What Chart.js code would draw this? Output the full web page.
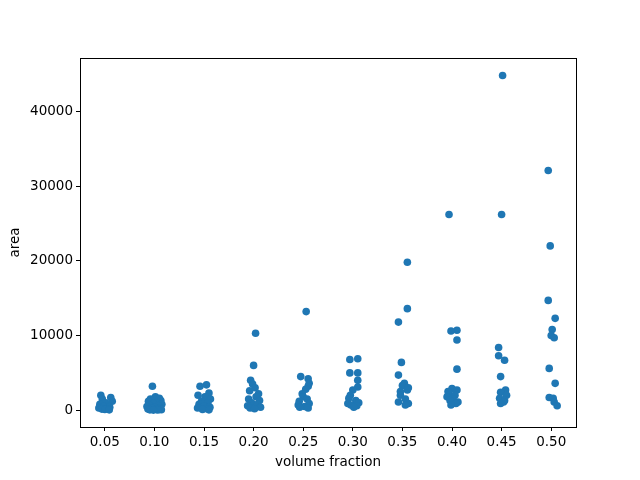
<!DOCTYPE html>
<html>
<head>
<meta charset="utf-8">
<script src="https://cdn.jsdelivr.net/npm/chart.js@4"></script>
<style>
  html, body { margin: 0; padding: 0; background: #fff; }
  #wrap { width: 640px; height: 480px; }
</style>
</head>
<body>
<div id="wrap"><canvas id="stripChart" width="640" height="480"></canvas></div>
<script>
// categories on the x axis
var fractions = ['0.05', '0.10', '0.15', '0.20', '0.25', '0.30', '0.35', '0.40', '0.45', '0.50'];

// area values per volume fraction, with the horizontal jitter
var area05 = [2000, 1700, 1500, 1200, 1000, 800, 600, 500, 400, 300, 200, 150, 100, 50];
var jit05  = [-0.08, 0.12, -0.05, 0.15, 0.02, -0.1, 0.08, -0.03, 0.1, -0.12, 0.05, -0.06, 0.0, 0.09];

var area10 = [3200, 1800, 1600, 1500, 1300, 1200, 1000, 900, 800, 700, 600, 500, 400, 300, 250, 200, 150, 100, 80, 50, 30, 20];
var jit10  = [-0.04, 0.02, 0.1, -0.08, 0.13, -0.12, 0.05, -0.02, 0.15, -0.1, 0.08, -0.15, 0.0, 0.12, -0.06, 0.1, -0.13, 0.04, 0.14, -0.09, 0.07, -0.02];

var area15 = [3400, 3200, 2300, 2000, 1800, 1500, 1200, 1000, 800, 600, 400, 300, 200, 100, 50];
var jit15  = [0.05, -0.08, 0.1, -0.12, 0.02, 0.13, -0.05, 0.08, -0.1, 0.0, 0.12, -0.13, 0.06, -0.03, 0.1];

var area20 = [10300, 6000, 4000, 3500, 3000, 2600, 2200, 1800, 1500, 1300, 1000, 800, 600, 400, 300, 200];
var jit20  = [0.04, 0.0, -0.06, -0.02, 0.03, -0.08, 0.1, 0.05, -0.1, 0.12, -0.04, 0.08, -0.12, 0.14, -0.07, 0.02];

var area25 = [13200, 4500, 4200, 3600, 3200, 2800, 2200, 1800, 1500, 1200, 900, 700, 500, 400, 300];
var jit25  = [0.06, -0.05, 0.1, 0.12, 0.1, 0.05, -0.02, 0.0, 0.08, -0.08, 0.12, -0.1, 0.03, -0.07, 0.1];

var area30 = [6900, 6800, 5000, 5000, 4000, 3100, 2700, 2000, 1600, 1300, 1000, 900, 700, 600, 400];
var jit30  = [0.1, -0.06, -0.06, 0.1, 0.1, 0.1, 0.0, -0.05, -0.08, 0.06, 0.12, -0.1, -0.04, 0.08, 0.02];

var area35 = [19800, 13600, 11800, 6400, 4700, 3600, 3300, 3000, 2700, 2500, 2000, 1500, 1100, 900, 700];
var jit35  = [0.1, 0.1, -0.08, -0.02, -0.08, 0.04, 0.0, 0.12, 0.1, -0.04, -0.04, 0.06, -0.08, 0.12, 0.06];

var area40 = [26200, 10700, 10600, 9400, 5500, 2900, 2700, 2500, 2300, 2000, 1800, 1500, 1300, 1100, 900, 700];
var jit40  = [-0.06, 0.1, -0.02, 0.1, 0.1, 0.0, 0.1, -0.08, -0.06, 0.06, -0.1, 0.02, -0.04, 0.12, 0.08, -0.02];

var area45 = [44800, 26200, 8400, 7300, 6700, 4500, 2700, 2400, 2000, 1600, 1300, 1100, 900];
var jit45  = [0.02, 0.0, -0.06, -0.06, 0.06, -0.02, 0.08, -0.02, 0.1, -0.04, 0.06, 0.04, -0.02];

var area50 = [32100, 22000, 14700, 12300, 10800, 10000, 9700, 5600, 3600, 1700, 1600, 1100, 600];
var jit50  = [-0.06, -0.02, -0.06, 0.08, 0.02, 0.0, 0.06, -0.04, 0.08, -0.04, 0.04, 0.06, 0.12];

var areas = [area05, area10, area15, area20, area25, area30, area35, area40, area45, area50];
var jitters = [jit05, jit10, jit15, jit20, jit25, jit30, jit35, jit40, jit45, jit50];

var yTicks = [0, 10000, 20000, 30000, 40000];

var points = [];
areas.forEach(function (vals, i) {
    vals.forEach(function (v, k) {
        points.push({ x: i + jitters[i][k], y: v });
    });
});

// frame round the plot area (matplotlib spines)
var frame = {
    id: 'frame',
    afterDraw: function (chart) {
        var a = chart.chartArea, c = chart.ctx;
        c.save();
        c.strokeStyle = '#000';
        c.lineWidth = 1;
        c.strokeRect(Math.round(a.left) + 0.5, Math.round(a.top) + 0.5,
                     Math.round(a.right - a.left), Math.round(a.bottom - a.top));
        c.restore();
    }
};

var font = { family: 'DejaVu Sans', size: 13.5 };

var ctx = document.getElementById('stripChart').getContext('2d');
var stripChart = new Chart(ctx, {
    type: 'scatter',
    data: {
        datasets: [{
            data: points,
            backgroundColor: '#1f77b4',
            borderWidth: 0,
            pointRadius: 3.8,
            pointHoverRadius: 3.8
        }]
    },
    options: {
        responsive: false,
        animation: false,
        layout: { padding: { left: 7, right: 64, top: 58, bottom: 9 } },
        plugins: { legend: { display: false }, tooltip: { enabled: false } },
        scales: {
            x: {
                type: 'linear',
                min: -0.5,
                max: 9.5,
                afterBuildTicks: function (s) {
                    s.ticks = fractions.map(function (f, i) { return { value: i }; });
                },
                afterFit: function (s) { s.height = 44; },
                ticks: {
                    color: '#000', font: font, padding: 3, maxRotation: 0,
                    callback: function (v) { return fractions[v]; }
                },
                grid: { display: true, drawOnChartArea: false, drawTicks: true, tickLength: 4, color: '#000' },
                border: { display: true, color: '#000' },
                title: { display: true, text: 'volume fraction', color: '#000', font: font, padding: { top: 0, bottom: 0 } }
            },
            y: {
                min: -2245,
                max: 47150,
                afterBuildTicks: function (s) {
                    s.ticks = yTicks.map(function (t) { return { value: t }; });
                },
                afterFit: function (s) { s.width = 73; },
                ticks: {
                    color: '#000', font: font, padding: 3,
                    callback: function (v) { return String(v); }
                },
                grid: { display: true, drawOnChartArea: false, drawTicks: true, tickLength: 4, color: '#000' },
                border: { display: true, color: '#000' },
                title: { display: true, text: 'area', color: '#000', font: font, padding: { top: 0, bottom: 0 } }
            }
        }
    },
    plugins: [frame]
});
</script>
</body>
</html>
